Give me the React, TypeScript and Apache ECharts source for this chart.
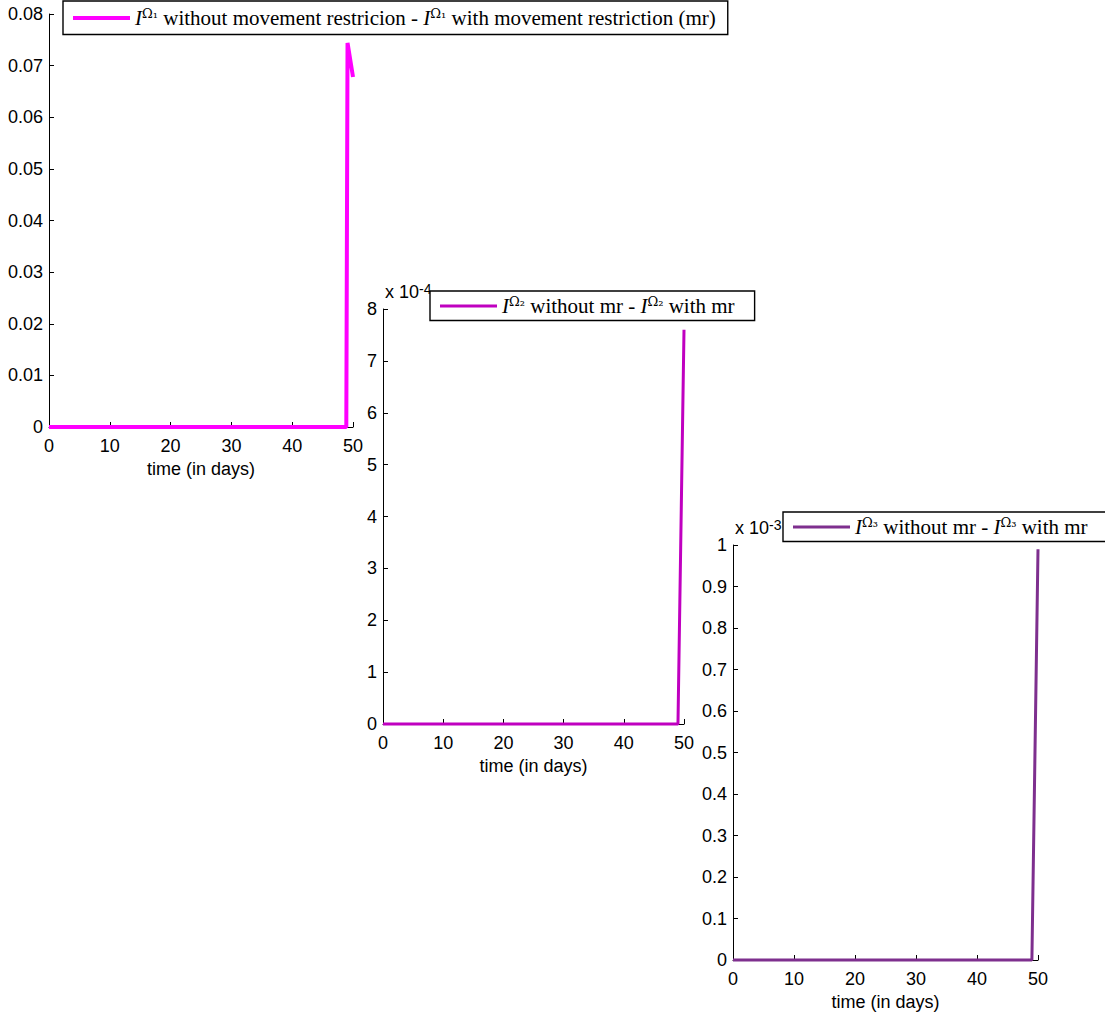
import React, { useEffect, useRef } from 'react';
import * as echarts from 'echarts';

// ---- data ----
const xTicks = [0, 10, 20, 30, 40, 50];
const t1 = [0, 48.9, 49.1, 50];
const v1 = [0, 0, 0.0744, 0.0678];
const t2 = [0, 49, 50];
const v2 = [0, 0, 7.6]; // x 10^-4
const t3 = [0, 49, 50];
const v3 = [0, 0, 0.99]; // x 10^-3
const y1Ticks = [0, 0.01, 0.02, 0.03, 0.04, 0.05, 0.06, 0.07, 0.08];
const y2Ticks = [0, 1, 2, 3, 4, 5, 6, 7, 8];
const y3Ticks = [0, 0.1, 0.2, 0.3, 0.4, 0.5, 0.6, 0.7, 0.8, 0.9, 1];
const seriesNames = ['s1', 's2', 's3'];
const legendLabels: Record<string, string> = {
  s1: '{i|I}{sup|Ω₁}{r| without movement restricion - }{i|I}{sup|Ω₁}{r| with movement restriction (mr)}',
  s2: '{i|I}{sup|Ω₂}{r| without mr - }{i|I}{sup|Ω₂}{r| with mr}',
  s3: '{i|I}{sup|Ω₃}{r| without mr - }{i|I}{sup|Ω₃}{r| with mr}',
};
const colors = ['#ff00ff', '#c000c0', '#7e2f8e'];

const SANS = 'Liberation Sans, Arial, sans-serif';
const SERIF = 'Liberation Serif, Times New Roman, serif';

export default function App() {
  const ref = useRef<HTMLDivElement>(null);
  useEffect(() => {
    document.body.style.margin = '0';
    const chart = echarts.init(ref.current!, undefined, { renderer: 'svg' });
    const grids = [
      { left: 49, top: 14, width: 304, height: 413 },
      { left: 383, top: 309, width: 301, height: 415 },
      { left: 733, top: 545, width: 305, height: 415 },
    ];
    const yDefs = [
      { ticks: y1Ticks, fmt: (v: number) => (v === 0 ? '0' : v.toFixed(2)), name: '' },
      { ticks: y2Ticks, fmt: (v: number) => String(Math.round(v)), name: '{a|x 10}{b|-4}' },
      { ticks: y3Ticks, fmt: (v: number) => (v === 0 ? '0' : v === 1 ? '1' : v.toFixed(1)), name: '{a|x 10}{b|-3}' },
    ];
    const data = [
      t1.map((t, j) => [t, v1[j]]),
      t2.map((t, j) => [t, v2[j]]),
      t3.map((t, j) => [t, v3[j]]),
    ];
    const labelStyle = { color: '#000', fontSize: 18, fontFamily: SANS };
    const legendPos = [
      { left: 63, top: 1, padding: [6, 12, 6, 10] },
      { left: 430, top: 291, padding: [4, 20, 4, 10] },
      { left: 783, top: 512, padding: [4, 20, 4, 10] },
    ];
    const widths = [4, 3, 3];
    const rich = {
      i: { fontFamily: SERIF, fontStyle: 'italic', fontSize: 21, color: '#000', lineHeight: 22 },
      sup: { fontFamily: 'DejaVu Serif, serif', fontSize: 13, color: '#000', verticalAlign: 'top', lineHeight: 13 },
      r: { fontFamily: SERIF, fontSize: 21, color: '#000', lineHeight: 22 },
    };
    chart.setOption({
      animation: false,
      backgroundColor: '#fff',
      grid: grids.map((g) => ({ ...g, containLabel: false })),
      legend: seriesNames.map((n, i) => ({
        data: [n],
        left: legendPos[i].left,
        top: legendPos[i].top,
        orient: 'horizontal',
        borderColor: '#000',
        borderWidth: 1.4,
        padding: legendPos[i].padding,
        backgroundColor: '#fff',
        icon: 'rect',
        itemWidth: 57,
        itemHeight: widths[i],
        formatter: (name: string) => legendLabels[name],
        textStyle: { rich },
        selectedMode: false,
      })),
      xAxis: grids.map((_, i) => ({
        gridIndex: i,
        type: 'value',
        min: xTicks[0],
        max: xTicks[xTicks.length - 1],
        interval: 10,
        axisLine: { show: true, onZero: false, lineStyle: { color: '#000', width: 1 } },
        axisTick: { show: true, inside: true, length: 5, lineStyle: { color: '#000' } },
        axisLabel: { ...labelStyle, margin: 10 },
        splitLine: { show: false },
        name: 'time (in days)',
        nameLocation: 'middle',
        nameGap: 33,
        nameTextStyle: { ...labelStyle },
      })),
      yAxis: yDefs.map((d, i) => ({
        gridIndex: i,
        type: 'value',
        min: d.ticks[0],
        max: d.ticks[d.ticks.length - 1],
        interval: d.ticks[1] - d.ticks[0],
        axisLine: { show: true, onZero: false, lineStyle: { color: '#000', width: 1 } },
        axisTick: { show: true, inside: true, length: 5, lineStyle: { color: '#000' } },
        axisLabel: { ...labelStyle, margin: 6, formatter: d.fmt },
        splitLine: { show: false },
        name: d.name,
        nameLocation: 'end',
        nameGap: 7,
        nameTextStyle: {
          align: 'left',
          verticalAlign: 'bottom',
          padding: [0, 0, 0, 2],
          rich: {
            a: { fontFamily: SANS, fontSize: 18, color: '#000', lineHeight: 20 },
            b: { fontFamily: SANS, fontSize: 14, color: '#000', verticalAlign: 'top', lineHeight: 12 },
          },
        },
      })),
      series: seriesNames.map((n, i) => ({
        name: n,
        type: 'line',
        xAxisIndex: i,
        yAxisIndex: i,
        data: data[i],
        showSymbol: false,
        clip: false,
        color: colors[i],
        lineStyle: { color: colors[i], width: widths[i] },
      })),
    });
    return () => chart.dispose();
  }, []);
  return <div ref={ref} style={{ width: 1105, height: 1016 }} />;
}
